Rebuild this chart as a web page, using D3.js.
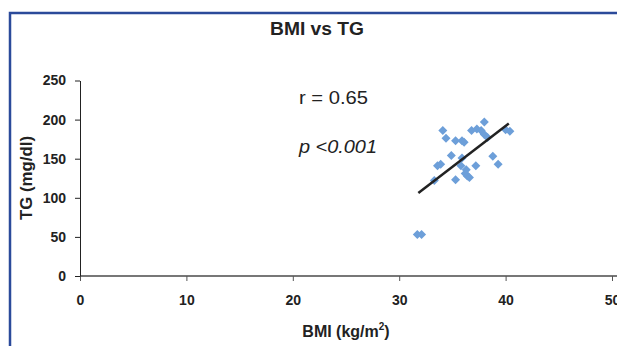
<!DOCTYPE html>
<html>
<head>
<meta charset="utf-8">
<title>BMI vs TG</title>
<script src="https://cdnjs.cloudflare.com/ajax/libs/d3/7.8.5/d3.min.js"></script>
<style>
  body { margin: 0; background: white; }
  svg { display: block; }
  text { font-family: "Liberation Sans", Arial, sans-serif; }
</style>
</head>
<body>
<div id="chart"></div>
<script>
// values
var bmi = [31.7, 32.1, 33.3, 33.6, 33.9, 34.1, 34.4, 34.9, 35.3, 35.3, 35.9, 36.1,
           35.9, 35.8, 36.2, 36.4, 36.6, 36.8, 37.2, 37.3, 37.7, 38.0, 38.0, 38.3,
           38.8, 39.3, 40.0, 40.4, 36.3];
var tg  = [53, 53, 122, 141, 143, 186, 176, 154, 173, 123, 173, 171,
           151, 141, 131, 128, 126, 186, 141, 188, 186, 197, 181, 177,
           153, 143, 187, 185, 136];
var trendX = [31.8, 40.3];
var trendY = [106, 195];
var xTicks = [0, 10, 20, 30, 40, 50];
var yTicks = [0, 50, 100, 150, 200, 250];

var W = 617, H = 346;
var svg = d3.select("#chart").append("svg").attr("width", W).attr("height", H);

// blue frame (only top and left visible)
svg.append("path")
    .attr("d", "M10,346 V13 H617")
    .attr("fill", "none")
    .attr("stroke", "#2b4a9a")
    .attr("stroke-width", 2.5);

var x = d3.scaleLinear().domain([0, 50]).range([80, 612]);
var y = d3.scaleLinear().domain([0, 250]).range([276, 80.5]);

// x axis
var gx = svg.append("g").attr("transform", "translate(0,276)")
    .call(d3.axisBottom(x).tickValues(xTicks).tickSize(5).tickPadding(14).tickSizeOuter(0));
gx.select(".domain").attr("stroke", "#777").attr("stroke-width", 2)
    .attr("d", "M80,0H617");
gx.selectAll(".tick line").attr("stroke", "#555");
gx.selectAll("text").attr("font-size", 14).attr("font-weight", "bold").attr("fill", "#222");

// y axis
var gy = svg.append("g").attr("transform", "translate(80,0)")
    .call(d3.axisLeft(y).tickValues(yTicks).tickSize(5).tickPadding(9).tickSizeOuter(0));
gy.select(".domain").attr("stroke", "#222");
gy.selectAll(".tick line").attr("stroke", "#222");
gy.selectAll("text").attr("font-size", 14).attr("font-weight", "bold").attr("fill", "#222");

// points
var pts = d3.range(bmi.length);
svg.append("g").selectAll("path").data(pts).join("path")
    .attr("transform", function(i) { return "translate(" + x(bmi[i]) + "," + y(tg[i]) + ")"; })
    .attr("d", "M0,-4.5L4.5,0L0,4.5L-4.5,0Z")
    .attr("fill", "#6d9fd9");

// trend line
svg.append("line")
    .attr("x1", x(trendX[0])).attr("y1", y(trendY[0]))
    .attr("x2", x(trendX[1])).attr("y2", y(trendY[1]))
    .attr("stroke", "#222").attr("stroke-width", 2.5);

// titles
svg.append("text").attr("x", 317).attr("y", 35).attr("text-anchor", "middle")
    .attr("font-size", 18).attr("font-weight", "bold").attr("fill", "#222")
    .attr("textLength", 94).attr("lengthAdjust", "spacingAndGlyphs").text("BMI vs TG");

svg.append("text").attr("transform", "translate(32,178) rotate(-90)")
    .attr("text-anchor", "middle").attr("font-size", 16).attr("font-weight", "bold")
    .attr("fill", "#222").attr("textLength", 84).attr("lengthAdjust", "spacingAndGlyphs")
    .text("TG (mg/dl)");

var xl = svg.append("text").attr("x", 346).attr("y", 337).attr("text-anchor", "middle")
    .attr("font-size", 16).attr("font-weight", "bold").attr("fill", "#222");
xl.append("tspan").text("BMI (kg/m");
xl.append("tspan").attr("dy", -7).attr("font-size", 10).text("2");
xl.append("tspan").attr("dy", 7).text(")");

// statistics
svg.append("text").attr("x", 299).attr("y", 104).attr("font-size", 18)
    .attr("font-family", "'Open Sans', sans-serif").attr("fill", "#222")
    .attr("textLength", 69).attr("lengthAdjust", "spacingAndGlyphs").text("r = 0.65");
svg.append("text").attr("x", 299).attr("y", 153).attr("font-size", 18)
    .attr("font-family", "'Open Sans', sans-serif").attr("font-style", "italic")
    .attr("fill", "#222").attr("textLength", 78).attr("lengthAdjust", "spacingAndGlyphs")
    .text("p <0.001");
</script>
</body>
</html>
